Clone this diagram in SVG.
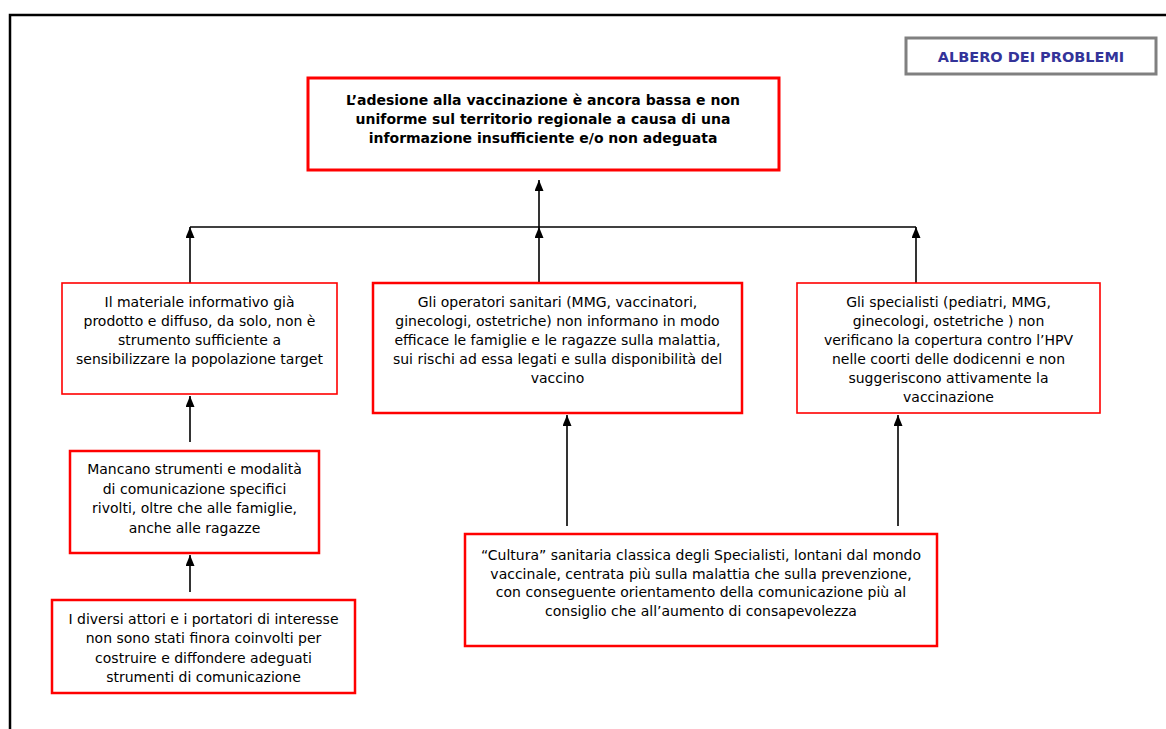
<svg xmlns="http://www.w3.org/2000/svg" width="1166" height="729" viewBox="0 0 1166 729">
<defs>
<style>
.box{fill:#fff;stroke:#ff0000;stroke-width:2.5}
.thin{stroke-width:1.6}
.thick{stroke-width:3}
.t{font-family:"DejaVu Sans","Liberation Sans",sans-serif;font-size:14px;fill:#000;text-anchor:middle}
.b{font-family:"DejaVu Sans","Liberation Sans",sans-serif;font-size:14px;font-weight:bold;fill:#000;text-anchor:middle}
.c{stroke:#000;stroke-width:1.6;fill:none}
</style>
<marker id="ah" viewBox="0 0 11 9" refX="11" refY="4.5" markerWidth="11" markerHeight="9" markerUnits="userSpaceOnUse" orient="auto">
<path d="M0,0 L11,4.5 L0,9 z" fill="#000"/>
</marker>
</defs>
<rect width="1166" height="729" fill="#fff"/>
<path d="M10,729 V15 H1166" fill="none" stroke="#000" stroke-width="2.5"/>

<g id="title">
<rect x="906" y="38" width="250" height="36" fill="#fff" stroke="#808080" stroke-width="3"/>
<text x="1031" y="62" style="font-family:'DejaVu Sans','Liberation Sans',sans-serif;font-size:14.5px;font-weight:bold;fill:#333399" text-anchor="middle">ALBERO DEI PROBLEMI</text>
</g>

<g id="connectors">
<line class="c" x1="190" y1="227" x2="916" y2="227"/>
<line class="c" x1="539" y1="227" x2="539" y2="180" marker-end="url(#ah)"/>
<line class="c" x1="190" y1="283" x2="190" y2="227" marker-end="url(#ah)"/>
<line class="c" x1="539" y1="283" x2="539" y2="227" marker-end="url(#ah)"/>
<line class="c" x1="916" y1="283" x2="916" y2="227" marker-end="url(#ah)"/>
<line class="c" x1="190" y1="442" x2="190" y2="396" marker-end="url(#ah)"/>
<line class="c" x1="190" y1="592" x2="190" y2="555" marker-end="url(#ah)"/>
<line class="c" x1="567" y1="526" x2="567" y2="415" marker-end="url(#ah)"/>
<line class="c" x1="898" y1="526" x2="898" y2="415" marker-end="url(#ah)"/>
</g>

<g id="root">
<rect class="box thick" x="308" y="78" width="471" height="92"/>
<text class="b" x="543" y="105">L’adesione alla vaccinazione è ancora bassa e non</text>
<text class="b" x="543" y="124">uniforme sul territorio regionale a causa di una</text>
<text class="b" x="543" y="143">informazione insufficiente e/o non adeguata</text>
</g>

<g id="nodeA">
<rect class="box thin" x="62" y="283" width="275" height="111"/>
<text class="t" x="199.5" y="307">Il materiale informativo già</text>
<text class="t" x="199.5" y="326">prodotto e diffuso, da solo,  non è</text>
<text class="t" x="199.5" y="345">strumento sufficiente  a</text>
<text class="t" x="199.5" y="364">sensibilizzare la popolazione target</text>
</g>

<g id="nodeB">
<rect class="box" x="373" y="283" width="369" height="130"/>
<text class="t" x="557.5" y="307">Gli operatori sanitari (MMG, vaccinatori,</text>
<text class="t" x="557.5" y="326">ginecologi, ostetriche)  non informano in modo</text>
<text class="t" x="557.5" y="345">efficace le famiglie  e le ragazze sulla malattia,</text>
<text class="t" x="557.5" y="364">sui rischi ad essa legati e sulla disponibilità del</text>
<text class="t" x="557.5" y="383">vaccino</text>
</g>

<g id="nodeC">
<rect class="box thin" x="797" y="283" width="303" height="130"/>
<text class="t" x="948.5" y="307">Gli specialisti (pediatri, MMG,</text>
<text class="t" x="948.5" y="326">ginecologi, ostetriche ) non</text>
<text class="t" x="948.5" y="345">verificano la copertura contro l’HPV</text>
<text class="t" x="948.5" y="364">nelle coorti delle dodicenni e non</text>
<text class="t" x="948.5" y="383">suggeriscono attivamente la</text>
<text class="t" x="948.5" y="402">vaccinazione</text>
</g>

<g id="nodeD">
<rect class="box" x="70" y="451" width="249" height="102"/>
<text class="t" x="194.5" y="474">Mancano strumenti e modalità</text>
<text class="t" x="194.5" y="494">di comunicazione specifici</text>
<text class="t" x="194.5" y="513">rivolti, oltre che alle famiglie,</text>
<text class="t" x="194.5" y="533">anche alle ragazze</text>
</g>

<g id="nodeE">
<rect class="box" x="52" y="600" width="303" height="93"/>
<text class="t" x="203.5" y="624">I diversi attori e i portatori di interesse</text>
<text class="t" x="203.5" y="643">non sono stati finora coinvolti per</text>
<text class="t" x="203.5" y="663">costruire e diffondere adeguati</text>
<text class="t" x="203.5" y="682">strumenti di comunicazione</text>
</g>

<g id="nodeF">
<rect class="box" x="465" y="534" width="472" height="112"/>
<text class="t" x="701" y="560">“Cultura” sanitaria classica degli Specialisti, lontani dal mondo</text>
<text class="t" x="701" y="579">vaccinale, centrata più sulla malattia che sulla prevenzione,</text>
<text class="t" x="701" y="597">con conseguente orientamento della comunicazione più al</text>
<text class="t" x="701" y="616">consiglio che all’aumento di consapevolezza</text>
</g>
</svg>
